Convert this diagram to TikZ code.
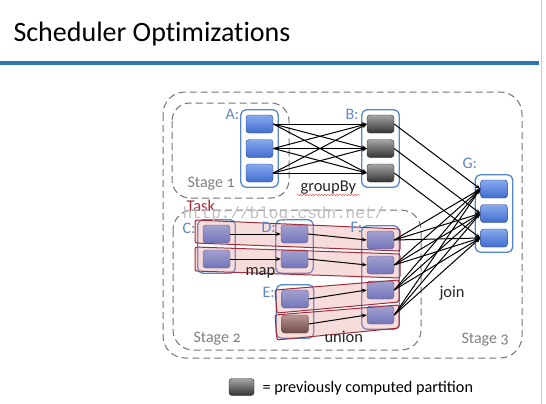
\documentclass[tikz,border=0pt]{standalone}
\usepackage{fontspec}
\setmainfont{Carlito}
\newfontfamily\titlefont{Carlito}[Ligatures = NoCommon]
\newfontfamily\oldnum{Carlito}[Numbers = OldStyle]
\newfontfamily\markfont{Liberation Mono}
\usetikzlibrary{arrows.meta,fit,decorations.pathmorphing}

\definecolor{slideblue}{RGB}{46,117,182}
\definecolor{grpblue}{RGB}{85,135,200}
\definecolor{lblblue}{RGB}{95,135,200}
\definecolor{partlight}{RGB}{135,170,238}
\definecolor{partdark}{RGB}{65,108,205}
\definecolor{taskred}{RGB}{160,45,60}
\definecolor{taskfill}{RGB}{230,140,140}
\definecolor{oldlight}{RGB}{165,155,150}
\definecolor{olddark}{RGB}{60,45,38}

\tikzset{
  part/.style = {draw = partdark!60!black, rounded corners = 3pt, minimum width = 27pt,
                 minimum height = 18pt, inner sep = 0pt, top color = partlight, bottom color = partdark},
  oldpart/.style = {part, draw = black!85, top color = black!35, bottom color = black!80},
  grp/.style = {draw = grpblue, line width = 1.3pt, rounded corners = 5pt, inner sep = 5pt},
  stagebox/.style = {draw = black!55, dash pattern = on 7pt off 4pt, line width = 1pt, rounded corners = 22pt},
  taskbox/.style = {draw = taskred, line width = 1pt, fill = taskfill, fill opacity = 0.3, rounded corners = 2pt},
  flow/.style = {-{Stealth[length = 5pt, width = 4pt]}, line width = 1pt},
  grplabel/.style = {anchor = base west, text = lblblue, font = \fontsize{16}{16}\selectfont},
  stagelabel/.style = {anchor = base west, text = black!50, font = \oldnum\fontsize{16}{16}\selectfont},
  oplabel/.style = {anchor = base west, text = black!85, font = \fontsize{16.5}{16}\selectfont}
}

\begin{document}
\begin{tikzpicture}[x = 1pt, y = -1pt]
\useasboundingbox (0,0) rectangle (546,404);

% title
\node[anchor = base west, font = \titlefont\fontsize{28}{28}\selectfont] (title) at (10,42) {Scheduler Optimizations};
\fill[slideblue] (0,61.5) rectangle (539,65);
\draw[black!20, line width = 1pt] (541,0) -- (541,404);

% stages
\draw[stagebox] (163,92) rectangle (522,358);
\draw[stagebox, rounded corners = 18pt] (172,103) rectangle (289,198);
\draw[stagebox, rounded corners = 20pt] (173,210) rectangle (421,350);

% partitions
\foreach \i/\y in {1/124, 2/148.5, 3/173} {
  \node[part] (a\i) at (259.5,\y) {};
  \node[oldpart] (b\i) at (380.5,\y) {};
}
\foreach \i/\y in {1/189, 2/213.5, 3/238}
  \node[part] (g\i) at (494,\y) {};
\foreach \i/\y in {1/234, 2/259} {
  \node[part] (c\i) at (216.5,\y) {};
  \node[part] (d\i) at (294.5,\y) {};
}
\node[part] (e1) at (295,299) {};
\node[part, draw = black!85, top color = oldlight, bottom color = olddark] (e2) at (295,324) {};
\foreach \i/\y in {1/240, 2/265, 3/290, 4/315}
  \node[part] (f\i) at (380.5,\y) {};

% datasets
\node[grp, fit = (a1)(a3)] (A) {};
\node[grp, fit = (b1)(b3)] (B) {};
\node[grp, fit = (c1)(c2)] (C) {};
\node[grp, fit = (d1)(d2)] (D) {};
\node[grp, fit = (e1)(e2)] (E) {};
\node[grp, fit = (f1)(f4)] (F) {};
\node[grp, fit = (g1)(g3)] (G) {};

% tasks
\draw[taskbox] (195,220) -- (400,229) -- (400,251) -- (195,243) -- cycle;
\draw[taskbox] (195,247) -- (400,254) -- (400,278) -- (195,271) -- cycle;
\draw[taskbox] (275,290) -- (399,280) -- (399,302) -- (277,313) -- cycle;
\draw[taskbox] (275,315) -- (399,305) -- (399,328) -- (277,340) -- cycle;

% labels
\node[grplabel] (la) at (222,119) {A:};
\node[grplabel] (lb) at (342,119) {B:};
\node[grplabel] (lc) at (179,233) {C:};
\node[grplabel] (ld) at (258,232) {D:};
\node[grplabel] (le) at (259,297) {E:};
\node[grplabel] (lf) at (347,232) {F:};
\node[grplabel] (lg) at (459,168) {G:};
\node[stagelabel] (s1) at (184,187) {Stage 1};
\node[stagelabel] (s2) at (190,342) {Stage 2};
\node[stagelabel] (s3) at (458,343) {Stage 3};
\node[oplabel] (gby) at (297,191) {groupBy};
\draw[red!75, line width = 0.4pt, decorate, decoration = {snake, amplitude = 0.7pt, segment length = 3pt}]
  ([yshift = -4pt]gby.base west) -- ([yshift = -4pt]gby.base east);
\node[oplabel] (map) at (242,275) {map};
\node[oplabel] (uni) at (321,342) {union};
\node[oplabel] (join) at (436,297) {join};
\node[anchor = base west, text = taskred, font = \fontsize{16.5}{16}\selectfont] (task) at (183,211) {Task};
\node[anchor = base west, text = black!25, font = \markfont\fontsize{16}{16}\selectfont] (mark) at (179,218) {http://blog.csdn.net/};

% arrows
\foreach \i in {1,2,3}
  \foreach \j in {1,2,3}
    \draw[flow] (a\i.east) -- (b\j.west);
\foreach \i in {1,2,3}
  \draw[flow] (b\i.east) -- (g\i.west);
\foreach \i in {1,2,3,4}
  \foreach \j in {1,2,3}
    \draw[flow] (f\i.east) -- (g\j.west);
\foreach \i in {1,2} {
  \draw[flow] (c\i.east) -- (d\i.west);
  \draw[flow] (d\i.east) -- (f\i.west);
}
\draw[flow] (e1.east) -- (f3.west);
\draw[flow] (e2.east) -- (f4.west);

% legend
\node[oldpart, minimum width = 25pt, minimum height = 17pt] (key) at (241.5,387) {};
\node[anchor = base west, font = \fontsize{16.2}{16}\selectfont] (keytext) at (259,392) {= previously computed partition};
\end{tikzpicture}
\end{document}
